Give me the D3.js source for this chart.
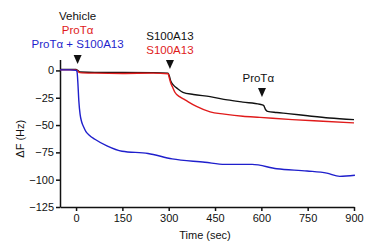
<!DOCTYPE html>
<html>
<head>
<meta charset="utf-8">
<script src="https://cdn.jsdelivr.net/npm/d3@7"></script>
<style>
  body { margin: 0; background: #fff; }
  svg { font-family: "Liberation Sans", Arial, sans-serif; }
</style>
</head>
<body>
<svg id="chart" width="365" height="244"></svg>
<script>
const vehicle = [
  [-52, 1], [-20, 1], [0, 1], [5, 0], [12, -1.5], [60, -1.8], [150, -1.8], [250, -2], [298, -2.5],
  [302, -5], [307, -10], [314, -13], [330, -17], [346, -20], [380, -22], [434, -24],
  [490, -27], [540, -29], [595, -31], [607, -32], [614, -36], [620, -37.5], [650, -38.5],
  [686, -39.5], [750, -41.5], [820, -43.5], [900, -45]
];
const protA = [
  [-52, 0.5], [-20, 0.5], [0, 0.5], [5, -0.5], [12, -2], [60, -2.5], [150, -2.8], [250, -2.5], [298, -3],
  [302, -7], [306, -11], [312, -15], [320, -20], [335, -24], [353, -27], [390, -33],
  [434, -38], [480, -40], [540, -42], [595, -43], [700, -45], [800, -46.5], [900, -48]
];
const protAS100 = [
  [-52, 0.5], [-20, 0.5], [0, 0], [3, -1], [6, -12], [9, -28], [13, -40], [18, -47],
  [25, -52], [32, -56], [42, -59], [61, -63], [100, -69], [149, -74], [233, -76], [311, -81],
  [417, -84], [482, -86], [570, -86], [650, -90], [748, -92], [812, -94], [854, -97], [903, -96]
];
const xTicks = [0, 150, 300, 450, 600, 750, 900];
const yTicks = [0, -25, -50, -75, -100, -125];

const width = 365;
const height = 244;
const margin = { top: 59.5, right: 11, bottom: 37, left: 60 };

const svg = d3.select("#chart");

const x = d3.scaleLinear()
  .domain([-52, 900])
  .range([margin.left, width - margin.right]);

const y = d3.scaleLinear()
  .domain([-125, 10])
  .range([height - margin.bottom, margin.top]);

const xAxis = svg.append("g")
  .attr("transform", `translate(0,${height - margin.bottom})`)
  .call(d3.axisBottom(x).tickValues(xTicks).tickSize(4).tickPadding(3).tickSizeOuter(0));

const yAxis = svg.append("g")
  .attr("transform", `translate(${margin.left},0)`)
  .call(d3.axisLeft(y).tickValues(yTicks).tickSize(4).tickPadding(2).tickSizeOuter(0));

[xAxis, yAxis].forEach((g) => {
  g.selectAll("path, line").attr("stroke", "#111").attr("stroke-width", 1.5);
  g.selectAll("text").attr("font-size", 11).attr("fill", "#111")
    .attr("font-family", "Liberation Sans, Arial, sans-serif");
});

const line = d3.line()
  .x((d) => x(d[0]))
  .y((d) => y(d[1]))
  .curve(d3.curveMonotoneX);

[[vehicle, "#111"], [protA, "#e01b1b"], [protAS100, "#1f1fcc"]].forEach(([data, color]) => {
  svg.append("path")
    .datum(data)
    .attr("fill", "none")
    .attr("stroke", color)
    .attr("stroke-width", 1.4)
    .attr("d", line);
});

svg.append("text")
  .attr("transform", `translate(24,${(y(0) + y(-125)) / 2}) rotate(-90)`)
  .attr("text-anchor", "middle")
  .attr("font-size", 11)
  .attr("fill", "#111")
  .text("ΔF (Hz)");

svg.append("text")
  .attr("x", 205)
  .attr("y", 239)
  .attr("text-anchor", "middle")
  .attr("font-size", 11)
  .attr("fill", "#111")
  .text("Time (sec)");

// injection markers
const arrows = [
  { t: 5, top: 55 },
  { t: 304, top: 60 },
  { t: 602, top: 88 }
];
arrows.forEach((a) => {
  const cx = x(a.t);
  svg.append("path")
    .attr("d", `M${cx - 4},${a.top}L${cx + 4},${a.top}L${cx},${a.top + 9}Z`)
    .attr("fill", "#111");
});

const labels = [
  { text: "Vehicle", t: 5, y: 20, color: "#111" },
  { text: "ProTα", t: 5, y: 34, color: "#e01b1b" },
  { text: "ProTα + S100A13", t: 5, y: 48, color: "#1f1fcc" },
  { text: "S100A13", t: 304, y: 40, color: "#111" },
  { text: "S100A13", t: 304, y: 54, color: "#e01b1b" },
  { text: "ProTα", t: 590, y: 82, color: "#111" }
];
labels.forEach((l) => {
  svg.append("text")
    .attr("x", x(l.t))
    .attr("y", l.y)
    .attr("text-anchor", "middle")
    .attr("font-size", 11.5)
    .attr("fill", l.color)
    .text(l.text);
});
</script>
</body>
</html>
